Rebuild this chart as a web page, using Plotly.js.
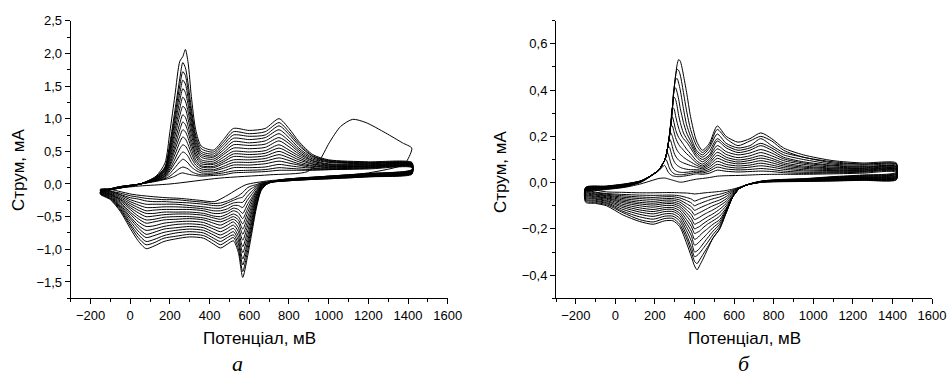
<!DOCTYPE html>
<html>
<head>
<meta charset="utf-8">
<script src="https://cdn.plot.ly/plotly-3.0.1.min.js"></script>
<style>html,body{margin:0;padding:0;background:#fff;}#chart{width:951px;height:382px;}</style>
</head>
<body>
<div id="chart"></div>
<script>
// ---------- Panel а : potential grids (mV) ----------
const A_ANODIC_X = [-150, -50, 50, 130, 175, 200, 225, 250, 265, 278, 292, 308, 330, 358, 420, 470, 520, 600, 680, 750, 800, 850, 920, 1000, 1200, 1420];
const A_CATHODIC_X = [1420, 1200, 1000, 850, 750, 690, 660, 635, 610, 590, 567, 545, 520, 490, 455, 420, 370, 300, 230, 170, 120, 80, 40, 0, -50, -100, -150];

// Panel а : anodic current (mA), one row per cycle
const A_ANODIC_Y = [
 [-0.13,-0.06,0.00,0.12,0.32,0.80,1.35,1.88,1.95,2.06,1.85,1.34,0.83,0.58,0.52,0.68,0.85,0.82,0.85,1.00,0.85,0.65,0.45,0.37,0.34,0.33],
 [-0.13,-0.06,0.00,0.11,0.26,0.63,1.12,1.62,1.86,1.78,1.53,1.16,0.75,0.54,0.49,0.64,0.80,0.77,0.80,0.94,0.80,0.62,0.43,0.36,0.33,0.32],
 [-0.13,-0.06,0.00,0.10,0.25,0.59,1.04,1.51,1.72,1.66,1.42,1.08,0.70,0.50,0.46,0.60,0.75,0.73,0.75,0.89,0.76,0.59,0.42,0.35,0.32,0.32],
 [-0.12,-0.06,0.00,0.10,0.23,0.54,0.97,1.39,1.59,1.53,1.31,1.00,0.65,0.47,0.43,0.56,0.70,0.68,0.71,0.83,0.71,0.55,0.40,0.34,0.32,0.31],
 [-0.12,-0.05,0.00,0.09,0.22,0.50,0.89,1.28,1.46,1.40,1.21,0.92,0.60,0.44,0.41,0.52,0.65,0.63,0.66,0.77,0.66,0.52,0.38,0.33,0.31,0.31],
 [-0.12,-0.05,0.00,0.09,0.20,0.46,0.81,1.16,1.33,1.27,1.10,0.84,0.56,0.41,0.38,0.48,0.60,0.59,0.61,0.71,0.62,0.49,0.36,0.31,0.30,0.30],
 [-0.12,-0.05,0.00,0.08,0.19,0.42,0.73,1.05,1.19,1.15,0.99,0.76,0.51,0.37,0.35,0.45,0.55,0.54,0.56,0.66,0.57,0.46,0.35,0.30,0.29,0.30],
 [-0.12,-0.05,0.00,0.08,0.17,0.38,0.65,0.93,1.06,1.02,0.88,0.68,0.46,0.34,0.32,0.41,0.50,0.49,0.51,0.60,0.52,0.43,0.33,0.29,0.29,0.29],
 [-0.11,-0.05,0.00,0.07,0.16,0.34,0.58,0.83,0.95,0.91,0.79,0.61,0.42,0.31,0.30,0.37,0.46,0.45,0.47,0.55,0.48,0.40,0.31,0.28,0.28,0.29],
 [-0.11,-0.05,0.00,0.07,0.15,0.30,0.52,0.73,0.83,0.80,0.70,0.54,0.37,0.28,0.27,0.34,0.42,0.41,0.43,0.50,0.44,0.37,0.30,0.27,0.27,0.28],
 [-0.11,-0.05,0.00,0.06,0.13,0.27,0.45,0.64,0.72,0.69,0.60,0.47,0.33,0.26,0.25,0.31,0.37,0.37,0.39,0.45,0.40,0.34,0.28,0.26,0.27,0.28],
 [-0.11,-0.05,0.00,0.06,0.12,0.23,0.38,0.54,0.60,0.58,0.51,0.40,0.29,0.23,0.22,0.27,0.33,0.33,0.35,0.40,0.36,0.31,0.27,0.25,0.26,0.27],
 [-0.11,-0.04,0.00,0.06,0.11,0.20,0.32,0.44,0.49,0.47,0.42,0.33,0.25,0.20,0.20,0.24,0.29,0.29,0.31,0.35,0.32,0.29,0.25,0.24,0.25,0.27],
 [-0.10,-0.04,0.00,0.05,0.09,0.16,0.25,0.34,0.38,0.36,0.32,0.26,0.21,0.17,0.17,0.20,0.25,0.25,0.26,0.30,0.28,0.26,0.24,0.23,0.25,0.26],
 [-0.10,-0.04,0.00,0.05,0.08,0.12,0.18,0.24,0.26,0.25,0.23,0.19,0.16,0.14,0.15,0.17,0.20,0.21,0.22,0.25,0.24,0.23,0.22,0.22,0.24,0.26],
 [-0.10,-0.04,0.00,0.04,0.07,0.09,0.12,0.16,0.17,0.16,0.15,0.14,0.13,0.12,0.13,0.14,0.17,0.18,0.19,0.21,0.21,0.21,0.21,0.22,0.23,0.25]
];

// Panel а : cathodic current (mA), one row per cycle
const A_CATHODIC_Y = [
 [0.22,0.16,0.12,0.09,0.06,0.00,-0.10,-0.38,-0.80,-1.13,-1.43,-1.05,-0.87,-0.92,-0.98,-0.92,-0.83,-0.81,-0.84,-0.88,-0.95,-0.99,-0.87,-0.68,-0.42,-0.24,-0.16],
 [0.22,0.16,0.12,0.09,0.06,0.00,-0.09,-0.35,-0.74,-1.05,-1.34,-0.99,-0.82,-0.87,-0.93,-0.87,-0.79,-0.77,-0.80,-0.83,-0.90,-0.93,-0.82,-0.64,-0.40,-0.23,-0.15],
 [0.21,0.15,0.11,0.09,0.06,0.00,-0.08,-0.33,-0.69,-0.97,-1.24,-0.92,-0.78,-0.82,-0.88,-0.83,-0.75,-0.73,-0.75,-0.79,-0.85,-0.88,-0.77,-0.61,-0.38,-0.22,-0.15],
 [0.21,0.15,0.11,0.08,0.06,0.01,-0.08,-0.30,-0.63,-0.90,-1.15,-0.86,-0.73,-0.78,-0.83,-0.78,-0.71,-0.69,-0.71,-0.74,-0.79,-0.82,-0.72,-0.57,-0.36,-0.21,-0.14],
 [0.20,0.15,0.11,0.08,0.05,0.01,-0.07,-0.27,-0.58,-0.82,-1.05,-0.80,-0.68,-0.73,-0.78,-0.74,-0.67,-0.65,-0.67,-0.69,-0.74,-0.77,-0.67,-0.53,-0.34,-0.20,-0.14],
 [0.20,0.14,0.11,0.08,0.05,0.01,-0.06,-0.24,-0.52,-0.74,-0.96,-0.73,-0.63,-0.68,-0.73,-0.69,-0.63,-0.61,-0.62,-0.65,-0.69,-0.71,-0.63,-0.50,-0.32,-0.19,-0.13],
 [0.19,0.14,0.10,0.08,0.05,0.01,-0.05,-0.22,-0.46,-0.66,-0.86,-0.67,-0.58,-0.63,-0.68,-0.65,-0.59,-0.57,-0.58,-0.60,-0.64,-0.65,-0.58,-0.46,-0.30,-0.18,-0.13],
 [0.19,0.14,0.10,0.08,0.05,0.02,-0.04,-0.19,-0.41,-0.59,-0.77,-0.60,-0.54,-0.58,-0.63,-0.60,-0.55,-0.53,-0.54,-0.55,-0.58,-0.60,-0.53,-0.43,-0.28,-0.17,-0.12],
 [0.18,0.13,0.10,0.07,0.05,0.02,-0.03,-0.17,-0.36,-0.52,-0.69,-0.55,-0.50,-0.54,-0.58,-0.56,-0.52,-0.50,-0.50,-0.51,-0.54,-0.55,-0.49,-0.39,-0.26,-0.16,-0.12],
 [0.18,0.13,0.10,0.07,0.05,0.02,-0.03,-0.14,-0.31,-0.45,-0.61,-0.50,-0.46,-0.50,-0.54,-0.52,-0.48,-0.46,-0.46,-0.47,-0.49,-0.50,-0.44,-0.36,-0.24,-0.16,-0.11],
 [0.17,0.13,0.09,0.07,0.05,0.02,-0.02,-0.12,-0.26,-0.39,-0.53,-0.44,-0.41,-0.46,-0.50,-0.49,-0.45,-0.43,-0.43,-0.43,-0.45,-0.45,-0.40,-0.33,-0.23,-0.15,-0.11],
 [0.17,0.12,0.09,0.07,0.05,0.02,-0.01,-0.10,-0.22,-0.32,-0.45,-0.39,-0.37,-0.42,-0.45,-0.45,-0.41,-0.39,-0.39,-0.39,-0.40,-0.41,-0.36,-0.30,-0.21,-0.14,-0.10],
 [0.17,0.12,0.09,0.07,0.04,0.02,-0.01,-0.07,-0.17,-0.25,-0.36,-0.33,-0.33,-0.38,-0.41,-0.41,-0.38,-0.36,-0.35,-0.35,-0.36,-0.36,-0.32,-0.27,-0.19,-0.13,-0.10],
 [0.16,0.12,0.09,0.06,0.04,0.02,0.00,-0.05,-0.12,-0.19,-0.28,-0.28,-0.29,-0.33,-0.37,-0.37,-0.35,-0.33,-0.31,-0.31,-0.31,-0.31,-0.28,-0.24,-0.17,-0.12,-0.09],
 [0.16,0.11,0.08,0.06,0.04,0.03,0.01,-0.03,-0.07,-0.12,-0.20,-0.22,-0.25,-0.29,-0.33,-0.33,-0.31,-0.29,-0.28,-0.27,-0.27,-0.26,-0.23,-0.21,-0.16,-0.11,-0.09],
 [0.15,0.11,0.08,0.06,0.04,0.03,0.02,-0.01,-0.03,-0.06,-0.13,-0.18,-0.22,-0.26,-0.29,-0.30,-0.28,-0.26,-0.24,-0.24,-0.23,-0.22,-0.20,-0.18,-0.14,-0.11,-0.08]
];

// Panel а : first cycle (monomer oxidation hump)
const A_FIRST_X = [-150, -50, 50, 200, 450, 700, 894, 952, 1003, 1060, 1121, 1188, 1288, 1372, 1419, 1406, 1380, 1200, 1000, 850, 700, 584, 540, 480, 424, 350, 250, 181, 100, 13, -60, -121, -150];
const A_FIRST_Y = [-0.10, -0.06, -0.03, 0.00, 0.09, 0.14, 0.19, 0.35, 0.63, 0.88, 0.99, 0.94, 0.78, 0.63, 0.55, 0.42, 0.30, 0.17, 0.12, 0.08, 0.05, -0.01, -0.08, -0.19, -0.27, -0.25, -0.22, -0.21, -0.19, -0.16, -0.11, -0.07, -0.08];

// ---------- Panel б ----------
const B_ANODIC_X = [-150, -50, 50, 130, 180, 220, 248, 256, 264, 272, 280, 288, 296, 304, 312, 320, 328, 336, 344, 360, 380, 410, 440, 475, 515, 560, 620, 680, 735, 790, 850, 950, 1100, 1250, 1420];
const B_CATHODIC_X = [1420, 1250, 1100, 950, 850, 750, 700, 660, 627, 594, 560, 527, 493, 465, 443, 425, 413, 400, 384, 359, 325, 291, 250, 191, 123, 39, -45, -100, -150];

const B_ANODIC_Y = [
 [-0.020,-0.015,-0.005,0.008,0.03,0.055,0.095,0.115,0.15,0.195,0.25,0.32,0.40,0.46,0.51,0.532,0.525,0.50,0.465,0.39,0.285,0.18,0.14,0.17,0.245,0.20,0.175,0.19,0.215,0.19,0.15,0.12,0.095,0.085,0.085],
 [-0.022,-0.016,-0.006,0.008,0.03,0.055,0.095,0.115,0.15,0.195,0.25,0.32,0.40,0.46,0.49,0.485,0.465,0.43,0.39,0.31,0.23,0.16,0.13,0.16,0.23,0.19,0.16,0.18,0.20,0.18,0.14,0.11,0.09,0.08,0.08],
 [-0.023,-0.017,-0.007,0.008,0.03,0.055,0.095,0.115,0.15,0.195,0.25,0.32,0.40,0.445,0.45,0.43,0.40,0.36,0.32,0.25,0.20,0.14,0.12,0.15,0.21,0.17,0.15,0.16,0.19,0.16,0.13,0.11,0.085,0.08,0.08],
 [-0.024,-0.018,-0.008,0.007,0.03,0.055,0.095,0.115,0.15,0.195,0.25,0.32,0.40,0.41,0.39,0.36,0.32,0.29,0.26,0.215,0.18,0.13,0.11,0.135,0.19,0.16,0.14,0.15,0.17,0.15,0.12,0.10,0.08,0.075,0.075],
 [-0.025,-0.019,-0.009,0.007,0.03,0.055,0.095,0.115,0.15,0.195,0.25,0.32,0.37,0.36,0.33,0.29,0.26,0.235,0.215,0.19,0.165,0.12,0.10,0.12,0.18,0.15,0.13,0.14,0.16,0.14,0.11,0.09,0.075,0.07,0.07],
 [-0.026,-0.020,-0.010,0.007,0.03,0.055,0.095,0.115,0.15,0.195,0.25,0.325,0.32,0.29,0.26,0.235,0.215,0.20,0.19,0.175,0.15,0.11,0.09,0.113,0.16,0.134,0.12,0.128,0.143,0.128,0.103,0.085,0.072,0.067,0.069],
 [-0.027,-0.021,-0.011,0.006,0.03,0.055,0.095,0.115,0.15,0.195,0.25,0.285,0.26,0.23,0.21,0.195,0.185,0.175,0.165,0.145,0.125,0.095,0.08,0.103,0.146,0.122,0.108,0.116,0.13,0.116,0.095,0.079,0.067,0.064,0.067],
 [-0.028,-0.022,-0.012,0.006,0.03,0.055,0.095,0.115,0.15,0.195,0.25,0.245,0.22,0.195,0.178,0.165,0.155,0.148,0.14,0.125,0.11,0.085,0.072,0.093,0.131,0.11,0.098,0.105,0.117,0.105,0.086,0.072,0.063,0.061,0.064],
 [-0.029,-0.023,-0.013,0.005,0.03,0.055,0.095,0.115,0.15,0.195,0.215,0.20,0.175,0.155,0.14,0.13,0.122,0.116,0.11,0.10,0.09,0.075,0.066,0.084,0.118,0.10,0.089,0.096,0.106,0.096,0.079,0.067,0.06,0.058,0.061],
 [-0.030,-0.024,-0.014,0.005,0.03,0.055,0.095,0.115,0.15,0.19,0.18,0.155,0.13,0.115,0.105,0.097,0.092,0.088,0.085,0.08,0.074,0.066,0.06,0.076,0.105,0.09,0.081,0.086,0.095,0.086,0.072,0.062,0.056,0.056,0.059],
 [-0.031,-0.025,-0.015,0.004,0.03,0.055,0.095,0.115,0.15,0.155,0.135,0.11,0.093,0.082,0.075,0.07,0.066,0.063,0.061,0.058,0.056,0.056,0.054,0.067,0.092,0.079,0.072,0.076,0.084,0.076,0.065,0.056,0.052,0.053,0.057],
 [-0.032,-0.026,-0.016,0.004,0.03,0.055,0.095,0.115,0.128,0.11,0.085,0.068,0.058,0.052,0.048,0.046,0.045,0.044,0.044,0.045,0.047,0.05,0.048,0.058,0.079,0.069,0.063,0.067,0.073,0.067,0.058,0.051,0.049,0.05,0.054],
 [-0.033,-0.027,-0.017,0.003,0.03,0.055,0.095,0.10,0.085,0.065,0.052,0.044,0.039,0.036,0.035,0.034,0.034,0.034,0.035,0.037,0.04,0.044,0.042,0.05,0.067,0.059,0.055,0.057,0.061,0.057,0.05,0.045,0.045,0.048,0.052],
 [-0.034,-0.028,-0.018,0.002,0.028,0.052,0.075,0.065,0.05,0.04,0.034,0.03,0.028,0.027,0.026,0.026,0.026,0.027,0.028,0.03,0.033,0.038,0.036,0.041,0.054,0.049,0.046,0.048,0.05,0.048,0.043,0.04,0.042,0.045,0.049],
 [-0.035,-0.030,-0.020,-0.005,0.008,0.018,0.02,0.019,0.017,0.015,0.013,0.011,0.009,0.007,0.005,0.003,0.002,0.002,0.003,0.006,0.01,0.015,0.018,0.022,0.028,0.03,0.031,0.033,0.035,0.036,0.036,0.036,0.038,0.041,0.045]
];

const B_CATHODIC_Y = [
 [0.045,0.033,0.026,0.017,0.014,0.008,0.000,-0.012,-0.025,-0.06,-0.13,-0.20,-0.24,-0.29,-0.33,-0.36,-0.377,-0.36,-0.32,-0.26,-0.19,-0.165,-0.165,-0.18,-0.168,-0.14,-0.10,-0.09,-0.085],
 [0.042,0.031,0.024,0.016,0.013,0.008,-0.001,-0.011,-0.025,-0.06,-0.13,-0.20,-0.24,-0.28,-0.31,-0.335,-0.35,-0.34,-0.30,-0.24,-0.18,-0.155,-0.155,-0.17,-0.16,-0.13,-0.095,-0.086,-0.08],
 [0.039,0.029,0.023,0.015,0.012,0.007,-0.001,-0.011,-0.025,-0.06,-0.13,-0.19,-0.225,-0.26,-0.285,-0.305,-0.315,-0.32,-0.28,-0.225,-0.166,-0.145,-0.145,-0.158,-0.148,-0.124,-0.09,-0.081,-0.075],
 [0.037,0.027,0.021,0.014,0.012,0.007,-0.001,-0.011,-0.025,-0.06,-0.125,-0.18,-0.21,-0.24,-0.265,-0.285,-0.295,-0.30,-0.253,-0.207,-0.154,-0.135,-0.135,-0.146,-0.137,-0.116,-0.086,-0.077,-0.071],
 [0.034,0.025,0.020,0.013,0.011,0.006,-0.001,-0.011,-0.025,-0.06,-0.12,-0.17,-0.195,-0.22,-0.24,-0.255,-0.265,-0.27,-0.23,-0.19,-0.142,-0.125,-0.125,-0.135,-0.127,-0.108,-0.081,-0.072,-0.066],
 [0.031,0.023,0.018,0.012,0.010,0.006,-0.002,-0.011,-0.025,-0.06,-0.115,-0.16,-0.18,-0.20,-0.215,-0.23,-0.24,-0.245,-0.21,-0.174,-0.132,-0.116,-0.116,-0.125,-0.118,-0.101,-0.077,-0.069,-0.062],
 [0.029,0.022,0.017,0.011,0.009,0.005,-0.002,-0.011,-0.025,-0.06,-0.11,-0.145,-0.165,-0.18,-0.195,-0.21,-0.215,-0.22,-0.19,-0.159,-0.121,-0.108,-0.108,-0.116,-0.109,-0.094,-0.072,-0.065,-0.057],
 [0.026,0.020,0.015,0.011,0.009,0.005,-0.002,-0.011,-0.025,-0.058,-0.10,-0.13,-0.15,-0.165,-0.178,-0.19,-0.195,-0.20,-0.172,-0.143,-0.111,-0.099,-0.099,-0.106,-0.10,-0.087,-0.068,-0.061,-0.053],
 [0.024,0.018,0.014,0.010,0.008,0.004,-0.002,-0.011,-0.025,-0.055,-0.09,-0.115,-0.135,-0.148,-0.16,-0.17,-0.175,-0.18,-0.155,-0.13,-0.102,-0.091,-0.091,-0.097,-0.092,-0.081,-0.065,-0.058,-0.05],
 [0.022,0.017,0.013,0.009,0.008,0.004,-0.003,-0.011,-0.024,-0.05,-0.08,-0.10,-0.118,-0.13,-0.14,-0.15,-0.155,-0.16,-0.138,-0.117,-0.093,-0.084,-0.084,-0.089,-0.085,-0.075,-0.061,-0.054,-0.046],
 [0.020,0.015,0.012,0.008,0.007,0.004,-0.003,-0.011,-0.024,-0.045,-0.07,-0.088,-0.10,-0.112,-0.122,-0.13,-0.135,-0.14,-0.121,-0.104,-0.084,-0.076,-0.076,-0.081,-0.077,-0.069,-0.057,-0.051,-0.042],
 [0.018,0.014,0.011,0.008,0.006,0.003,-0.003,-0.011,-0.023,-0.04,-0.06,-0.075,-0.085,-0.095,-0.103,-0.11,-0.115,-0.12,-0.104,-0.091,-0.075,-0.069,-0.069,-0.072,-0.069,-0.063,-0.054,-0.048,-0.039],
 [0.016,0.012,0.009,0.007,0.006,0.003,-0.003,-0.011,-0.022,-0.036,-0.05,-0.062,-0.07,-0.078,-0.085,-0.091,-0.095,-0.10,-0.088,-0.077,-0.066,-0.061,-0.061,-0.064,-0.062,-0.057,-0.05,-0.044,-0.035],
 [0.014,0.011,0.008,0.006,0.005,0.003,-0.003,-0.011,-0.021,-0.032,-0.042,-0.05,-0.056,-0.062,-0.067,-0.072,-0.076,-0.08,-0.071,-0.064,-0.057,-0.054,-0.054,-0.055,-0.054,-0.051,-0.047,-0.041,-0.032],
 [0.012,0.010,0.007,0.005,0.004,0.002,-0.003,-0.011,-0.020,-0.028,-0.034,-0.038,-0.041,-0.043,-0.045,-0.047,-0.048,-0.049,-0.047,-0.045,-0.044,-0.043,-0.043,-0.044,-0.044,-0.042,-0.04,-0.032,-0.022]
];

// ---------- build traces ----------
const LINE = {color: '#000', width: 1, shape: 'spline', smoothing: 0.7};
const traces = [];
function addLoop(xa, ya, xc, yc, xr, yr) {
  traces.push({
    type: 'scatter', mode: 'lines', xaxis: xr, yaxis: yr, showlegend: false, hoverinfo: 'skip',
    x: xa.concat(xc, [xa[0]]), y: ya.concat(yc, [ya[0]]), line: LINE
  });
}
for (let i = 0; i < A_ANODIC_Y.length; i++) addLoop(A_ANODIC_X, A_ANODIC_Y[i], A_CATHODIC_X, A_CATHODIC_Y[i], 'x', 'y');
traces.push({type: 'scatter', mode: 'lines', x: A_FIRST_X, y: A_FIRST_Y, xaxis: 'x', yaxis: 'y', showlegend: false, hoverinfo: 'skip', line: LINE});
for (let i = 0; i < B_ANODIC_Y.length; i++) addLoop(B_ANODIC_X, B_ANODIC_Y[i], B_CATHODIC_X, B_CATHODIC_Y[i], 'x2', 'y2');

const W = 951, H = 382;
const yDom = [1 - 298.3 / H, 1 - 20.7 / H];
function xAxis(dom, anchor) {
  return {
    domain: dom, anchor: anchor, range: [-300, 1600], tick0: 0, dtick: 200,
    ticks: 'outside', ticklen: 5, tickwidth: 1, tickcolor: '#000',
    showline: true, linecolor: '#000', linewidth: 1, showgrid: false, zeroline: false,
    minor: {ticks: 'outside', ticklen: 3, tickwidth: 1, tickcolor: '#000', dtick: 100, tick0: 0, showgrid: false},
    tickfont: {size: 13, color: '#000'}, fixedrange: true
  };
}
function yAxis(range, dtick, mdtick, anchor) {
  return {
    domain: yDom, anchor: anchor, range: range, tick0: 0, dtick: dtick, tickformat: '.1f',
    ticks: 'outside', ticklen: 5, tickwidth: 1, tickcolor: '#000',
    showline: true, linecolor: '#000', linewidth: 1, showgrid: false, zeroline: false,
    minor: {ticks: 'outside', ticklen: 3, tickwidth: 1, tickcolor: '#000', dtick: mdtick, tick0: 0, showgrid: false},
    tickfont: {size: 13, color: '#000'}, fixedrange: true
  };
}

const TITLE_FONT = {size: 17, color: '#000', family: 'Liberation Sans, Arial, sans-serif'};
const LABEL_FONT = {size: 22, color: '#000', family: 'Liberation Serif, Times New Roman, serif'};
const layout = {
  width: W, height: H, margin: {l: 0, r: 0, t: 0, b: 0},
  paper_bgcolor: '#fff', plot_bgcolor: '#fff', showlegend: false,
  separators: ', ',
  font: {family: 'Liberation Sans, Arial, sans-serif', size: 13, color: '#000'},
  xaxis: xAxis([70.7 / W, 447.7 / W], 'y'),
  yaxis: yAxis([-1.75, 2.5], 0.5, 0.25, 'x'),
  xaxis2: xAxis([556 / W, 932 / W], 'y2'),
  yaxis2: yAxis([-0.5, 0.7], 0.2, 0.1, 'x2'),
  annotations: [
    {text: 'Потенціал, мВ', xref: 'paper', yref: 'paper', x: 259 / W, y: 1 - 338 / H, xanchor: 'center', yanchor: 'middle', showarrow: false, font: TITLE_FONT},
    {text: 'Потенціал, мВ', xref: 'paper', yref: 'paper', x: 744 / W, y: 1 - 338 / H, xanchor: 'center', yanchor: 'middle', showarrow: false, font: TITLE_FONT},
    {text: 'Струм, мА', xref: 'paper', yref: 'paper', x: 18 / W, y: 1 - 170 / H, xanchor: 'center', yanchor: 'middle', textangle: -90, showarrow: false, font: TITLE_FONT},
    {text: 'Струм, мА', xref: 'paper', yref: 'paper', x: 501 / W, y: 1 - 172 / H, xanchor: 'center', yanchor: 'middle', textangle: -90, showarrow: false, font: TITLE_FONT},
    {text: '<i>а</i>', xref: 'paper', yref: 'paper', x: 237 / W, y: 1 - 363 / H, xanchor: 'center', yanchor: 'middle', showarrow: false, font: LABEL_FONT},
    {text: '<i>б</i>', xref: 'paper', yref: 'paper', x: 744 / W, y: 1 - 363 / H, xanchor: 'center', yanchor: 'middle', showarrow: false, font: LABEL_FONT}
  ]
};

Plotly.newPlot('chart', traces, layout, {staticPlot: true, displayModeBar: false});
</script>
</body>
</html>
